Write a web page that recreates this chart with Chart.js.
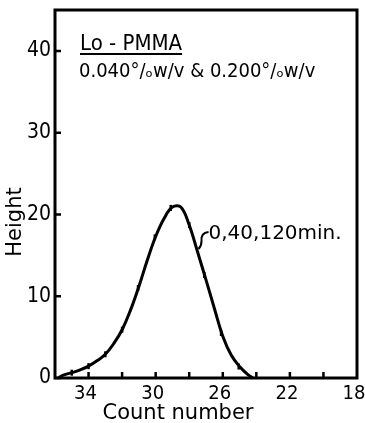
<!DOCTYPE html>
<html>
<head>
<meta charset="utf-8">
<script src="https://cdn.jsdelivr.net/npm/chart.js@4"></script>
<style>
  html, body { margin: 0; padding: 0; background: #fff; }
  #wrap { width: 365px; height: 423px; }
</style>
</head>
<body>
<div id="wrap"><canvas id="gpc"></canvas></div>
<script>
//Curve every half count (count number, peak height)
const countNumbers = [35.8, 35.5, 35, 34.5, 34, 33.5, 33, 32.5, 32, 31.5, 31, 30.5, 30, 29.5, 29, 28.5, 28, 27.5, 27, 26.5, 26, 25.5, 25, 24.5, 24.2];
const heights = [0, 0.35, 0.65, 1.0, 1.45, 2.1, 2.9, 4.2, 5.9, 8.3, 11.2, 14.4, 17.3, 19.5, 20.9, 20.9, 18.7, 15.4, 12.0, 8.5, 5.1, 2.8, 1.4, 0.4, 0];

//Measured points (small dashes on the curve)
const pointCounts = [35, 34, 33, 32, 31.05, 30.05, 29.1, 28.0, 27.1, 26.1, 25.05];
const pointHeights = [0.65, 1.45, 2.9, 5.9, 11.0, 17.2, 20.8, 18.7, 12.6, 5.5, 1.4];

const yTicks = [0, 10, 20, 30, 40];
const xLabels = [34, 30, 26, 22, 18];

const fontFam = "'DejaVu Sans Condensed', 'DejaVu Sans', sans-serif";
const textFam = "'DejaVu Sans', sans-serif";

//Frame, inward ticks and the texts
const framePlugin = {
    id: "frame",
    afterDraw(chart) {
        const ctx = chart.ctx;
        const a = chart.chartArea;
        const xs = chart.scales.x;
        const ys = chart.scales.y;
        ctx.save();
        ctx.strokeStyle = "#000";
        ctx.lineWidth = 3;
        ctx.strokeRect(a.left, a.top, a.right - a.left, a.bottom - a.top);

        ctx.lineWidth = 2.5;
        ctx.beginPath();
        for (const v of yTicks) {
            const py = ys.getPixelForValue(v);
            ctx.moveTo(a.left, py);
            ctx.lineTo(a.left + 6, py);
        }
        for (let v = 20; v <= 34; v += 2) {
            const px = xs.getPixelForValue(v);
            ctx.moveTo(px, a.bottom);
            ctx.lineTo(px, a.bottom - 6);
        }
        ctx.stroke();

        ctx.fillStyle = "#000";
        //legend texts
        ctx.font = "22px " + fontFam;
        ctx.textBaseline = "alphabetic";
        ctx.textAlign = "left";
        ctx.fillText("Lo - PMMA", 80, 50);
        const w = ctx.measureText("Lo - PMMA").width;
        ctx.fillRect(80, 53, w, 2);
        ctx.font = "20px " + fontFam;
        ctx.fillText("0.040°/ₒw/v & 0.200°/ₒw/v", 79, 77);

        //curve label and leader
        ctx.font = "20px " + textFam;
        const lx = xs.getPixelForValue(26.85);
        const ly = ys.getPixelForValue(17.6);
        ctx.textBaseline = "middle";
        ctx.fillText("0,40,120min.", lx, ly);
        ctx.lineWidth = 2;
        ctx.beginPath();
        ctx.moveTo(lx, ly - 2);
        ctx.quadraticCurveTo(lx - 8, ly - 1, lx - 7, ly + 7);
        ctx.quadraticCurveTo(lx - 7, ly + 12, lx - 10, ly + 15);
        ctx.stroke();

        //axis titles
        ctx.font = "21px " + textFam;
        ctx.textAlign = "center";
        ctx.textBaseline = "middle";
        ctx.fillText("Count number", 178, 414);
        ctx.translate(16, 222);
        ctx.rotate(-Math.PI / 2);
        ctx.fillText("Height", 0, 0);
        ctx.restore();
    }
};

new Chart("gpc", {
    type: "line",
    data: {
        datasets: [
            {
                label: "curve",
                data: countNumbers.map((c, i) => ({ x: c, y: heights[i] })),
                borderColor: "#000",
                borderWidth: 3,
                pointRadius: 0,
                tension: 0.4,
                fill: false
            },
            {
                label: "points",
                data: pointCounts.map((c, i) => ({ x: c, y: pointHeights[i] })),
                showLine: false,
                pointStyle: "line",
                pointRotation: 90,
                pointRadius: 3,
                pointBorderWidth: 2.5,
                borderColor: "#000",
                backgroundColor: "#000"
            }
        ]
    },
    options: {
        responsive: true,
        maintainAspectRatio: false,
        animation: false,
        layout: { padding: { top: 10, right: 8, left: 0, bottom: 0 } },
        plugins: {
            legend: { display: false },
            tooltip: { enabled: false }
        },
        scales: {
            x: {
                type: "linear",
                reverse: true,
                min: 18,
                max: 36,
                grid: { display: false, drawTicks: false },
                border: { display: false },
                afterFit(scale) {
                    scale.height = 45;
                    scale.paddingLeft = 0;
                    scale.paddingRight = 0;
                },
                afterBuildTicks(scale) {
                    scale.ticks = xLabels.map(v => ({ value: v }));
                },
                ticks: {
                    color: "#000",
                    padding: 4,
                    labelOffset: -3,
                    maxRotation: 0,
                    autoSkip: false,
                    font: { family: fontFam, size: 20 }
                }
            },
            y: {
                min: 0,
                max: 45,
                grid: { display: false, drawTicks: false },
                border: { display: false },
                afterFit(scale) {
                    scale.width = 55;
                    scale.paddingTop = 0;
                    scale.paddingBottom = 0;
                },
                afterBuildTicks(scale) {
                    scale.ticks = yTicks.map(v => ({ value: v }));
                },
                ticks: {
                    color: "#000",
                    padding: 4,
                    font: { family: fontFam, size: 21 }
                }
            }
        }
    },
    plugins: [framePlugin]
});
</script>
</body>
</html>
